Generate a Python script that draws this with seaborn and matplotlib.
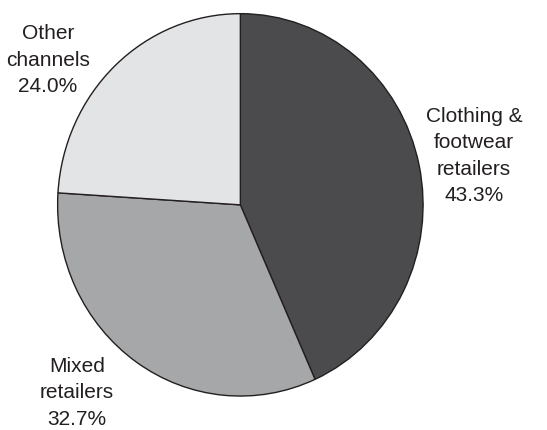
import matplotlib
matplotlib.use("Agg")
import matplotlib.pyplot as plt
import seaborn as sns

# Share of sales by distribution channel
channels = ["Clothing &\nfootwear\nretailers", "Mixed\nretailers", "Other\nchannels"]
shares = [43.3, 32.7, 24.0]
colors = ["#4b4b4e", "#a6a7a9", "#e3e4e6"]

sns.set_theme(style="white")
plt.rcParams["font.family"] = ["Liberation Sans", "DejaVu Sans"]

fig = plt.figure(figsize=(5.47, 4.30), dpi=100)
W, H = 547, 430

# axes box spanning the pie's bounding ellipse (pixel coords, top-based)
x0, x1, y0, y1 = 56.7, 424.0, 12.7, 397.0
ax = fig.add_axes([x0 / W, 1 - y1 / H, (x1 - x0) / W, (y1 - y0) / H])

ax.pie(shares, colors=colors, startangle=90, counterclock=False,
       wedgeprops=dict(edgecolor="#231f20", linewidth=1.0))
ax.set_aspect("auto")
ax.set_xlim(-1.005, 1.005)
ax.set_ylim(-1.005, 1.005)
ax.axis("off")

# label positions (pixel centres, top-based)
label_pos = [(474, 156), (77, 393), (48, 60)]
for name, val, (px, py) in zip(channels, shares, label_pos):
    fig.text(px / W, 1 - py / H, f"{name}\n{val:.1f}%", ha="center", va="center",
             fontsize=15, color="#231f20", linespacing=1.5)

fig.savefig("out.png", dpi=100)
